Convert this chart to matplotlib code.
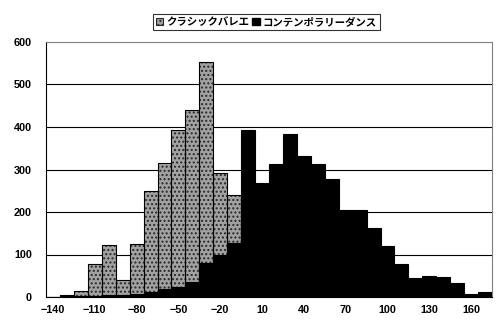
import matplotlib
matplotlib.use("Agg")
import matplotlib.pyplot as plt
from matplotlib.patches import Patch

categories = list(range(-140, 180, 10))
ballet = [1, 4, 15, 78, 122, 39, 124, 249, 315, 394, 441, 553, 291, 239,
          180, 120, 80, 50, 30, 20, 10, 6, 4, 2, 1, 1, 0, 0, 0, 0, 0, 0]
contemporary = [0, 3, 2, 3, 4, 5, 8, 11, 18, 23, 36, 81, 100, 126,
                394, 269, 312, 383, 332, 312, 278, 205, 205, 162, 121, 78,
                44, 50, 47, 34, 7, 11]
xticks = list(range(-140, 170, 30))
yticks = list(range(0, 700, 100))
labels = ["クラシックバレエ", "コンテンポラリーダンス"]

fig = plt.figure(figsize=(4.97, 3.22), dpi=100)
ax = fig.add_axes([46/497, 25/322, 446/497, 255/322])

ax.bar(categories, ballet, width=10, facecolor="#a2a2a2", edgecolor="#2a2a2a",
       hatch="....", linewidth=0, zorder=2)
ax.bar(categories, ballet, width=10, facecolor="none", edgecolor="black",
       linewidth=0.8, zorder=2.1)
ax.bar(categories, contemporary, width=10, facecolor="black", edgecolor="black",
       linewidth=0.8, zorder=3)

ax.set_xlim(-145, 175)
ax.set_ylim(0, 600)
ax.set_yticks(yticks)
ax.set_xticks(xticks)
for y in yticks[1:-1]:
    ax.axhline(y, color="black", linewidth=0.8, zorder=1)

ax.tick_params(length=0, pad=6)
for t in ax.get_xticklabels() + ax.get_yticklabels():
    t.set_fontfamily("Liberation Sans")
    t.set_fontweight("bold")
    t.set_fontsize(7.8)
ax.tick_params(axis="y", pad=10)

for s in ["top", "right"]:
    ax.spines[s].set_color("#808080")
    ax.spines[s].set_linestyle((0, (5, 1)))
    ax.spines[s].set_linewidth(0.8)
for s in ["left", "bottom"]:
    ax.spines[s].set_color("black")
    ax.spines[s].set_linewidth(0.8)

handles = [Patch(facecolor="#a2a2a2", edgecolor="#2a2a2a", hatch="....", linewidth=0.8),
           Patch(facecolor="black", edgecolor="black")]
leg = fig.legend(handles, labels, loc="center", bbox_to_anchor=(0.536, 0.932),
                 ncol=2, frameon=True, fancybox=False, handlelength=0.7,
                 handleheight=0.7, handletextpad=0.3, columnspacing=0.3,
                 borderpad=0.25, borderaxespad=0,
                 prop={"family": ["Noto Sans CJK JP", "DejaVu Sans"],
                       "weight": "bold", "size": 7.5})
leg.get_frame().set_edgecolor("black")
leg.get_frame().set_linewidth(0.8)

fig.savefig("out.png", dpi=100)
